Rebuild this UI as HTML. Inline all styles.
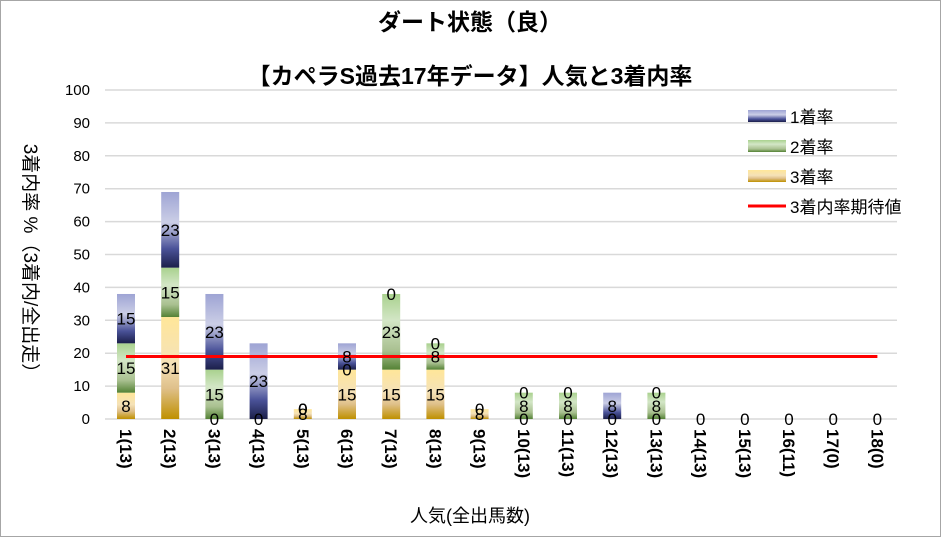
<!DOCTYPE html>
<html><head><meta charset="utf-8"><style>
body{margin:0;background:#fff;}
svg{display:block;font-family:"Liberation Sans","Noto Sans CJK JP",sans-serif;}
</style></head><body>
<svg id="chart" width="941" height="537" viewBox="0 0 941 537">
<defs>
<linearGradient id="g1" x1="0" y1="0" x2="0" y2="1">
<stop offset="0" stop-color="#9ea4d4"/><stop offset="0.4" stop-color="#cbcee6"/><stop offset="0.75" stop-color="#4a5298"/><stop offset="1" stop-color="#1b1f4a"/></linearGradient>
<linearGradient id="g2" x1="0" y1="0" x2="0" y2="1">
<stop offset="0" stop-color="#a9d18e"/><stop offset="0.35" stop-color="#d3e6c6"/><stop offset="0.75" stop-color="#a9c090"/><stop offset="1" stop-color="#548235"/></linearGradient>
<linearGradient id="g3" x1="0" y1="0" x2="0" y2="1">
<stop offset="0" stop-color="#ffe699"/><stop offset="0.45" stop-color="#f5e2b8"/><stop offset="0.7" stop-color="#dfc08a"/><stop offset="1" stop-color="#bf9000"/></linearGradient>
</defs>
<rect x="0.5" y="0.5" width="940" height="536" fill="#fff" stroke="#a6a6a6"/>
<text x="470" y="30" text-anchor="middle" font-size="23" font-weight="bold">ダート状態（良）</text>
<text x="470" y="84" text-anchor="middle" font-size="23" font-weight="bold">【カペラS過去17年データ】人気と3着内率</text>
<g id="grid"></g><g id="bars"></g><g id="labels"></g><g id="xlab"></g>
<text transform="translate(24,263) rotate(90)" text-anchor="middle" font-size="19">3着内率 %（3着内/全出走）</text>
<text x="470" y="522" text-anchor="middle" font-size="18">人気(全出馬数)</text>
<g font-size="17">
<rect x="748" y="110" width="38" height="12" fill="url(#g1)"/>
<text x="790" y="123">1着率</text>
<rect x="748" y="140" width="38" height="12" fill="url(#g2)"/>
<text x="790" y="153">2着率</text>
<rect x="748" y="170" width="38" height="12" fill="url(#g3)"/>
<text x="790" y="183">3着率</text>
<line x1="748" y1="206" x2="786" y2="206" stroke="#ff0000" stroke-width="3"/>
<text x="790" y="213">3着内率期待値</text>
</g>
</svg>
<script>
const categories=["1(13)","2(13)","3(13)","4(13)","5(13)","6(13)","7(13)","8(13)","9(13)","10(13)","11(13)","12(13)","13(13)","14(13)","15(13)","16(11)","17(0)","18(0)"];
const third=[8,31,0,0,3,15,15,15,3,0,0,0,0,0,0,0,0,0];
const second=[15,15,15,0,0,0,23,8,0,8,8,0,8,0,0,0,0,0];
const first=[15,23,23,23,0,8,0,0,0,0,0,8,0,0,0,0,0,0];
const thirdLabels=["8","31","0","0","8","15","15","15","8","0","0","0","0","0","0","0","0","0"];
const secondLabels=["15","15","15","","0","0","23","8","","8","8","","8","","","","",""];
const firstLabels=["15","23","23","23","0","8","0","0","0","0","0","8","0","","","","",""];
const expectVal=19;
const yTicks=[0,10,20,30,40,50,60,70,80,90,100];
const NS="http://www.w3.org/2000/svg";
const y=v=>419-v*3.29;
const x=i=>126+i*44.2;
function mk(tag,attrs,parent){const e=document.createElementNS(NS,tag);for(const k in attrs)e.setAttribute(k,attrs[k]);parent.appendChild(e);return e;}
const grid=document.getElementById('grid'),bars=document.getElementById('bars'),labels=document.getElementById('labels'),xlab=document.getElementById('xlab');
yTicks.forEach(t=>{
 const l=mk('line',{x1:105,x2:897,y1:y(t),y2:y(t),stroke:'#d9d9d9','stroke-width':1.5},grid);
 
 
 const tx=mk('text',{x:90,y:y(t)+5,'text-anchor':'end','font-size':15},grid);
 tx.textContent=t;
 
 
});
categories.forEach((c,i)=>{
 const segs=[[third[i],'url(#g3)','bar-3rd',thirdLabels[i]],[second[i],'url(#g2)','bar-2nd',secondLabels[i]],[first[i],'url(#g1)','bar-1st',firstLabels[i]]];
 let base=0;
 segs.forEach(s=>{
  const v=s[0];
  if(v>0){
   const r=mk('rect',{x:x(i)-9,y:y(base+v),width:18,height:y(base)-y(base+v),fill:s[1]},bars);
   
   
  }
  if(s[3]!==''){
   const t=mk('text',{x:x(i),y:(y(base)+y(base+v))/2+6,'text-anchor':'middle','font-size':17},labels);
   t.textContent=s[3];
   
   
  }
  base+=v;
 });
 const t=mk('text',{transform:`translate(${x(i)-6},429) rotate(90)`,'font-size':17,'font-weight':'bold'},xlab);
 t.textContent=c;
 
 
});
const el=mk('line',{x1:x(0),x2:x(categories.length-1),y1:y(expectVal),y2:y(expectVal),stroke:'#ff0000','stroke-width':3},bars);


</script>
</body></html>
